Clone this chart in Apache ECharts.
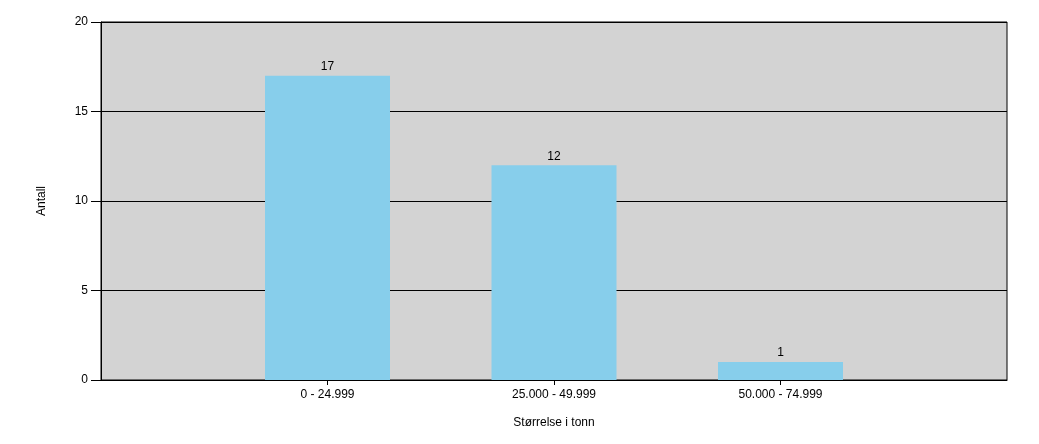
<!DOCTYPE html>
<html>
<head>
<meta charset="utf-8">
<script src="https://cdn.jsdelivr.net/npm/echarts@6/dist/echarts.min.js"></script>
<style>html,body{margin:0;padding:0;background:#fff}#c{width:1039px;height:444px}</style>
</head>
<body>
<div id="c"></div>
<script>
var categories = ['', '0 - 24.999', '25.000 - 49.999', '50.000 - 74.999', ''];
var values = [null, 17, 12, 1, null];
var yTicks = [0, 5, 10, 15, 20];

var chart = echarts.init(document.getElementById('c'));
var font = 'Liberation Sans, Arial, sans-serif';
chart.setOption({
  animation: false,
  grid: {left: 101, right: 32, top: 22, bottom: 64, show: true, backgroundColor: '#d3d3d3', borderColor: '#000', borderWidth: 1, containLabel: false},
  xAxis: {
    type: 'category', data: categories, boundaryGap: false,
    name: 'Størrelse i tonn', nameLocation: 'middle', nameGap: 37,
    nameTextStyle: {color: '#000', fontSize: 12, fontFamily: font},
    axisLine: {lineStyle: {color: '#000', width: 1}},
    axisTick: {show: true, length: 5, lineStyle: {color: '#000'}, interval: function (i) { return i >= 1 && i <= 3; }},
    axisLabel: {color: '#000', fontSize: 12, fontFamily: font, margin: 9, interval: 0},
    splitLine: {show: false}
  },
  yAxis: {
    type: 'value', min: yTicks[0], max: yTicks[yTicks.length - 1], interval: 5,
    name: 'Antall', nameLocation: 'middle', nameGap: 53,
    nameTextStyle: {color: '#000', fontSize: 12, fontFamily: font},
    axisLine: {show: true, lineStyle: {color: '#000', width: 1}},
    axisTick: {show: true, length: 10, lineStyle: {color: '#000'}},
    axisLabel: {color: '#000', fontSize: 12, fontFamily: font, margin: 13},
    splitLine: {show: true, lineStyle: {color: '#000', width: 1}}
  },
  series: [{
    type: 'bar', data: values, barWidth: 125,
    itemStyle: {color: '#87ceeb'},
    label: {show: true, position: 'top', color: '#000', fontSize: 12, fontFamily: font, distance: 3}
  }]
});
</script>
</body>
</html>
